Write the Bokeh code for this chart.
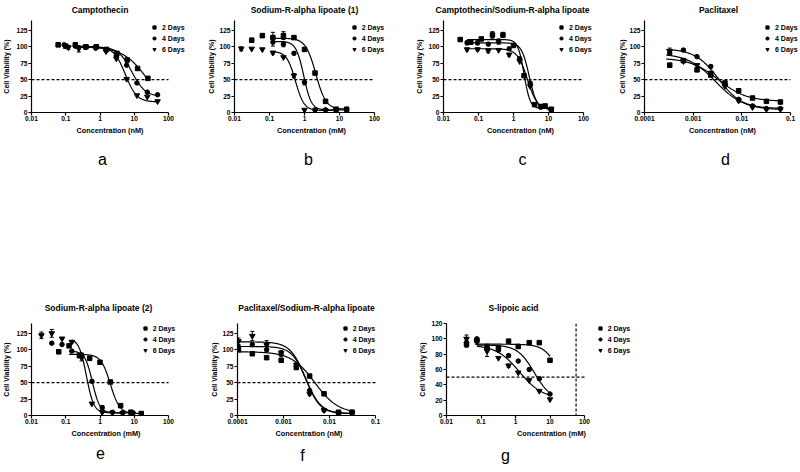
import numpy as np
from bokeh.plotting import figure
from bokeh.layouts import row, column
from bokeh.models import (Range1d, FixedTicker, Span, Legend, LegendItem, Title,
                          Whisker, TeeHead, ColumnDataSource)
from bokeh.embed import file_html
from bokeh.resources import INLINE

FONT = "Liberation Sans"
series_labels = ["2 Days", "4 Days", "6 Days"]
series_markers = ["square", "circle", "inverted_triangle"]
series_sizes = [4.5, 4.5, 5.5]
y_label = "Cell Viability (%)"
half_line = 50

ticks_a = [0.01, 0.1, 1, 10, 100]
tick_labels_a = ["0.01", "0.1", "1", "10", "100"]
ticks_p = [0.0001, 0.001, 0.01, 0.1]
tick_labels_p = ["0.0001", "0.001", "0.01", "0.1"]
y_ticks_140 = [0, 25, 50, 75, 100, 125]
y_ticks_120 = [0, 20, 40, 60, 80, 100, 120]

# ---- a: Camptothecin (nM)
a_x2 = [0.06, 0.1, 0.19, 0.39, 0.78, 1.56, 3.13, 6.25, 12.5, 25]
a_y2 = [103, 101, 103, 100, 100, 96, 90, 80, 67, 52]
a_e2 = [3, 2, 2, 0, 0, 0, 0, 0, 0, 0]
a_x4 = [0.09, 0.19, 0.375, 0.75, 1.5, 3, 6, 12, 24, 48]
a_y4 = [103, 101, 99, 98, 95, 86, 72, 45, 31, 27]
a_e4 = [2, 0, 0, 0, 0, 0, 0, 0, 0, 0]
a_x6 = [0.12, 0.24, 0.375, 0.75, 1.5, 3, 6, 12, 24, 48]
a_y6 = [99, 97, 100, 99, 93, 82, 51, 26, 24, 17]
a_e6 = [3, 5, 0, 0, 0, 0, 0, 0, 0, 0]
# fit: top, bottom, EC50, hill, x from, x to
a_fit2 = [100, 0, 25, 1.2, 0.19, 25]
a_fit4 = [100, 24, 8.5, 2.2, 0.19, 48]
a_fit6 = [100, 16, 5.5, 2.6, 0.19, 48]

# ---- b: Sodium-R-alpha lipoate (1) (mM)
b_x2 = [0.031, 0.0625, 0.125, 0.25, 0.5, 1, 2, 4, 8, 16]
b_y2 = [110, 117, 114, 117, 114, 96, 60, 17, 5, 5]
b_e2 = [3, 3, 8, 6, 3, 3, 0, 0, 0, 0]
b_x4 = [0.125, 0.25, 0.5, 1, 2, 4, 8, 16]
b_y4 = [107, 104, 90, 46, 4, 4, 4, 4]
b_e4 = [6, 4, 2, 4, 0, 0, 0, 0]
b_x6 = [0.0156, 0.031, 0.0625, 0.125, 0.25, 0.5, 1, 2, 4, 8]
b_y6 = [97, 97, 96, 91, 84, 56, 4, 3, 3, 3]
b_e6 = [3, 0, 0, 2, 0, 3, 0, 0, 0, 0]
b_fit2 = [113, 5, 2.1, 3, 0.125, 16]
b_fit4 = [108, 4, 0.95, 4, 0.125, 16]
b_fit6 = [93, 3, 0.55, 3.5, 0.125, 8]

# ---- c: Camptothecin/Sodium-R-alpha lipoate (nM)
c_x2 = [0.03, 0.06, 0.12, 0.25, 0.5, 1, 2, 4, 8, 12]
c_y2 = [111, 107, 112, 118, 118, 102, 56, 12, 10, 5]
c_e2 = [0, 3, 2, 5, 4, 0, 0, 0, 2, 0]
c_x4 = [0.047, 0.094, 0.19, 0.375, 0.75, 1.5, 3, 6, 12]
c_y4 = [106, 106, 104, 108, 97, 82, 45, 8, 4]
c_e4 = [3, 3, 0, 4, 0, 0, 0, 0, 0]
c_x6 = [0.047, 0.094, 0.19, 0.375, 0.75, 1.5, 3, 6, 12]
c_y6 = [96, 96, 94, 95, 88, 78, 40, 10, 5]
c_e6 = [2, 2, 3, 0, 2, 0, 0, 2, 0]
c_fit2 = [111, 6, 2.0, 5, 0.047, 12]
c_fit4 = [106, 5, 2.8, 4, 0.047, 12]
c_fit6 = [97, 4, 2.5, 3, 0.047, 12]

# ---- d: Paclitaxel (nM)
d_x = [0.00033, 0.00063, 0.0012, 0.0023, 0.0045, 0.0086, 0.0166, 0.032, 0.062]
d_y2 = [72, 79, 65, 57, 45, 33, 22, 17, 16]
d_e2 = [3, 0, 3, 2, 0, 3, 0, 0, 2]
d_y4 = [90, 95, 85, 70, 42, 20, 10, 6, 6]
d_e4 = [3, 2, 0, 2, 0, 0, 2, 0, 0]
d_y6 = [93, 78, 72, 60, 40, 18, 8, 5, 5]
d_e6 = [5, 2, 0, 3, 0, 2, 0, 0, 0]
d_fit2 = [83, 17, 0.0033, 1.5, 0.00028, 0.062]
d_fit4 = [97, 6, 0.0033, 1.8, 0.00028, 0.062]
d_fit6 = [90, 4, 0.0029, 1.5, 0.00028, 0.062]

# ---- e: Sodium-R-alpha lipoate (2) (mM)
e_x2 = [0.0625, 0.125, 0.25, 0.5, 1, 2, 4, 8, 16]
e_y2 = [97, 106, 91, 87, 81, 51, 15, 5, 3]
e_e2 = [3, 0, 0, 2, 2, 0, 0, 0, 0]
e_x4 = [0.039, 0.078, 0.15, 0.29, 0.58, 1.16, 2.3, 4.6, 9.3]
e_y4 = [110, 108, 98, 92, 52, 12, 5, 4, 4]
e_e4 = [0, 0, 0, 3, 2, 3, 0, 0, 0]
e_x6 = [0.0195, 0.039, 0.078, 0.15, 0.29, 0.58, 1.16, 2.3, 4.6]
e_y6 = [122, 125, 117, 112, 88, 18, 5, 4, 4]
e_e6 = [5, 6, 0, 2, 5, 0, 0, 0, 0]
e_fit2 = [93, 3, 2.0, 3.2, 0.125, 16]
e_fit4 = [98, 4, 0.6, 4, 0.125, 9.3]
e_fit6 = [117, 4, 0.4, 4, 0.15, 4.6]

# ---- f: Paclitaxel/Sodium-R-alpha lipoate (nM)
f_x = [0.000105, 0.00021, 0.00043, 0.00089, 0.0019, 0.0037, 0.0076, 0.0157, 0.031]
f_y2 = [100, 94, 88, 84, 73, 60, 33, 5, 5]
f_e2 = [2, 0, 0, 3, 0, 0, 0, 0, 0]
f_y4 = [104, 108, 100, 93, 75, 38, 8, 3, 5]
f_e4 = [3, 0, 2, 0, 4, 0, 0, 0, 0]
f_y6 = [113, 121, 107, 95, 77, 33, 8, 3, 4]
f_e6 = [5, 7, 7, 4, 3, 2, 0, 0, 0]
f_fit2 = [97, 3, 0.0048, 1.7, 0.000105, 0.031]
f_fit4 = [105, 3, 0.0031, 2.8, 0.000105, 0.031]
f_fit6 = [112, 3, 0.003, 2.6, 0.000105, 0.031]

# ---- g: S-lipoic acid (mM)
g_x = [0.038, 0.076, 0.15, 0.32, 0.63, 1.2, 2.5, 4.9, 10]
g_y2 = [93, 98, 88, 88, 97, 90, 95, 95, 72]
g_e2 = [4, 3, 0, 0, 0, 2, 0, 0, 0]
g_y4 = [95, 100, 88, 85, 78, 71, 60, 48, 28]
g_e4 = [0, 0, 5, 0, 2, 0, 0, 0, 0]
g_y6 = [100, 96, 84, 75, 65, 56, 46, 32, 21]
g_e6 = [5, 3, 7, 0, 2, 0, 0, 0, 0]
g_fit2 = [93, 0, 22, 2, 0.076, 10]
g_fit4 = [92, 20, 3.5, 1.8, 0.076, 10]
g_fit6 = [92, 22, 1.3, 1.3, 0.076, 10]
g_vline = 57

LEG_H = 32

# approximate glyph advance widths (per 1000 em) for centring texts
BOLD_W = {' ': 278, '(': 333, ')': 333, '-': 333, '/': 278, '1': 556, '2': 556,
          'A': 722, 'C': 722, 'P': 667, 'R': 722, 'S': 667, 'a': 556, 'c': 556,
          'd': 611, 'e': 556, 'h': 611, 'i': 278, 'l': 278, 'm': 889, 'n': 611,
          'o': 611, 'p': 611, 's': 556, 't': 333, 'u': 611, 'x': 556, 'y': 556}
REG_W = {'a': 556, 'b': 556, 'c': 500, 'd': 556, 'e': 556, 'f': 278, 'g': 556}


def text_w(s, size, table):
    return sum(table.get(ch, 556) for ch in s) * size / 1000.0


def four_pl(x, top, bottom, ec50, hill):
    return bottom + (top - bottom) / (1.0 + (x / ec50) ** hill)


def make_panel(title, letter, unit, xticks, xlabels, ytop, yticks, data, fits, g, vline=None):
    fl, axis_end, fr, ft, fb = g["frame"]
    figl, figr, figt, figb = g["fig"]
    decades = np.log10(xticks[-1]) - np.log10(xticks[0])
    ppd = (axis_end - fl) / decades
    x_hi = xticks[-1] * 10 ** ((fr - axis_end) / ppd)
    p = figure(x_axis_type="log", x_range=Range1d(xticks[0], x_hi),
               y_range=Range1d(0, ytop),
               frame_width=fr - fl, frame_height=fb - ft,
               min_border_left=fl - figl, min_border_right=figr - fr,
               min_border_top=ft - figt, min_border_bottom=figb - fb,
               output_backend="svg", toolbar_location=None, title=title)
    p.outline_line_color = None
    p.xgrid.visible = False
    p.ygrid.visible = False
    p.background_fill_color = "white"
    p.border_fill_color = "white"

    tt = p.title
    tt.text_font = FONT
    tt.text_font_style = "bold"
    tt.text_font_size = "8.5px"
    tt.text_color = "black"
    tt.align = "left"
    tt.offset = g["title"][0] - fl - text_w(title, 8.5, BOLD_W) / 2.0
    tt.vertical_align = "top"
    tt.standoff = g["title_standoff"]

    xa = p.xaxis[0]
    ya = p.yaxis[0]
    xa.ticker = FixedTicker(ticks=xticks)
    xa.bounds = (xticks[0], xticks[-1])
    xa.major_label_overrides = {t: s for t, s in zip(xticks, xlabels)}
    ya.ticker = FixedTicker(ticks=yticks)
    for ax in (xa, ya):
        ax.axis_line_width = 1.2
        ax.axis_line_color = "black"
        ax.major_tick_line_width = 1.2
        ax.major_tick_line_color = "black"
        ax.major_tick_out = 3
        ax.major_tick_in = 0
        ax.minor_tick_line_color = None
        ax.major_label_text_font = FONT
        ax.major_label_text_font_style = "bold"
        ax.major_label_text_font_size = "6.6px"
        ax.major_label_text_color = "black"
        ax.major_label_standoff = 1
        ax.axis_label_text_font = FONT
        ax.axis_label_text_font_style = "bold"
        ax.axis_label_text_color = "black"
    xa.major_label_standoff = 0
    xa.axis_label = "Concentration (%s)" % unit
    xa.axis_label_text_font_size = "7.3px"
    xa.axis_label_standoff = 2
    ya.axis_label = y_label
    ya.axis_label_text_font_size = "7px"
    ya.axis_label_standoff = g["ylab_standoff"]

    p.line([xticks[0], xticks[-1]], [half_line, half_line], line_color="black",
           line_width=1.2, line_dash="3 2")
    if vline is not None:
        p.add_layout(Span(location=vline, dimension="height", line_color="black",
                          line_width=1.2, line_dash="3 2"))

    items = []
    for (xs, ys, es), fit, lab, mk, sz in zip(data, fits, series_labels,
                                              series_markers, series_sizes):
        top, bottom, ec50, hill, x0, x1 = fit
        cx = np.logspace(np.log10(x0), np.log10(x1), 200)
        p.line(cx, four_pl(cx, top, bottom, ec50, hill), line_color="black", line_width=1.2)
        ex = [x for x, e in zip(xs, es) if e > 0]
        if ex:
            lo = [y - e for y, e in zip(ys, es) if e > 0]
            hi = [y + e for y, e in zip(ys, es) if e > 0]
            src = ColumnDataSource(dict(x=ex, lo=lo, hi=hi))
            p.add_layout(Whisker(source=src, base="x", lower="lo", upper="hi",
                                 line_color="black", line_width=1,
                                 upper_head=TeeHead(size=4, line_width=1, line_color="black"),
                                 lower_head=TeeHead(size=4, line_width=1, line_color="black")))
        r = p.scatter(xs, ys, marker=mk, size=sz, color="black")
        items.append(LegendItem(label=lab, renderers=[r]))

    lx, ltop = g["leg"]
    legend = Legend(items=items, location=(lx - fl, fb - (ltop + LEG_H)),
                    label_text_font=FONT, label_text_font_style="bold",
                    label_text_font_size="7px", label_text_color="black",
                    glyph_width=8, glyph_height=10, label_height=10,
                    label_standoff=4, spacing=1, padding=0, margin=0,
                    border_line_color=None, background_fill_alpha=0)
    p.add_layout(legend)

    lex = g["letter"]
    p.add_layout(Title(text=letter, align="left",
                       offset=lex - fl - text_w(letter, 16, REG_W) / 2.0,
                       vertical_align="top", standoff=g["letter_standoff"],
                       text_font=FONT, text_font_style="normal", text_font_size="16px",
                       text_color="black"), "below")
    return p


# frame: left, axis end (last tick), frame right, top, bottom; fig: left, right, top, bottom
geo = {
    "a": dict(frame=(29, 166, 186, 20, 112), fig=(0, 200, 0, 290), title=(97.5, 7),
              letter=100, leg=(148, 22), title_standoff=8, letter_standoff=26, ylab_standoff=3),
    "b": dict(frame=(232, 372, 386, 20, 112), fig=(200, 400, 0, 290), title=(302, 7),
              letter=306, leg=(347.7, 22), title_standoff=8, letter_standoff=26, ylab_standoff=1),
    "c": dict(frame=(441, 581, 595, 20, 112), fig=(400, 600, 0, 290), title=(510, 7),
              letter=520, leg=(555, 22), title_standoff=8, letter_standoff=26, ylab_standoff=2),
    "d": dict(frame=(642, 788, 798, 20, 112), fig=(600, 800, 0, 290), title=(716, 7),
              letter=723, leg=(761, 22), title_standoff=8, letter_standoff=26, ylab_standoff=0),
    "e": dict(frame=(29, 166, 178, 322, 414), fig=(0, 200, 290, 470), title=(96, 309),
              letter=98, leg=(138.7, 322), title_standoff=18, letter_standoff=13, ylab_standoff=3),
    "f": dict(frame=(235, 373, 378, 322, 414), fig=(200, 400, 290, 470), title=(304, 309),
              letter=300, leg=(338.7, 322), title_standoff=18, letter_standoff=13, ylab_standoff=1),
    "g": dict(frame=(444, 582, 654, 323, 415), fig=(400, 800, 290, 470), title=(511, 309),
              letter=503, leg=(593.7, 323), title_standoff=18, letter_standoff=13, ylab_standoff=2),
}

pa = make_panel("Camptothecin", "a", "nM", ticks_a, tick_labels_a, 140, y_ticks_140,
                [(a_x2, a_y2, a_e2), (a_x4, a_y4, a_e4), (a_x6, a_y6, a_e6)],
                [a_fit2, a_fit4, a_fit6], geo["a"])
pb = make_panel("Sodium-R-alpha lipoate (1)", "b", "mM", ticks_a, tick_labels_a, 140, y_ticks_140,
                [(b_x2, b_y2, b_e2), (b_x4, b_y4, b_e4), (b_x6, b_y6, b_e6)],
                [b_fit2, b_fit4, b_fit6], geo["b"])
pc = make_panel("Camptothecin/Sodium-R-alpha lipoate", "c", "nM", ticks_a, tick_labels_a, 140,
                y_ticks_140,
                [(c_x2, c_y2, c_e2), (c_x4, c_y4, c_e4), (c_x6, c_y6, c_e6)],
                [c_fit2, c_fit4, c_fit6], geo["c"])
pd_ = make_panel("Paclitaxel", "d", "nM", ticks_p, tick_labels_p, 140, y_ticks_140,
                 [(d_x, d_y2, d_e2), (d_x, d_y4, d_e4), (d_x, d_y6, d_e6)],
                 [d_fit2, d_fit4, d_fit6], geo["d"])
pe = make_panel("Sodium-R-alpha lipoate (2)", "e", "mM", ticks_a, tick_labels_a, 140, y_ticks_140,
                [(e_x2, e_y2, e_e2), (e_x4, e_y4, e_e4), (e_x6, e_y6, e_e6)],
                [e_fit2, e_fit4, e_fit6], geo["e"])
pf = make_panel("Paclitaxel/Sodium-R-alpha lipoate", "f", "nM", ticks_p, tick_labels_p, 140,
                y_ticks_140,
                [(f_x, f_y2, f_e2), (f_x, f_y4, f_e4), (f_x, f_y6, f_e6)],
                [f_fit2, f_fit4, f_fit6], geo["f"])
pg = make_panel("S-lipoic acid", "g", "mM", ticks_a, tick_labels_a, 120, y_ticks_120,
                [(g_x, g_y2, g_e2), (g_x, g_y4, g_e4), (g_x, g_y6, g_e6)],
                [g_fit2, g_fit4, g_fit6], geo["g"], vline=g_vline)

root = column(row(pa, pb, pc, pd_, spacing=0), row(pe, pf, pg, spacing=0), spacing=0)

with open("out.html", "w") as fh:
    fh.write(file_html(root, INLINE))
